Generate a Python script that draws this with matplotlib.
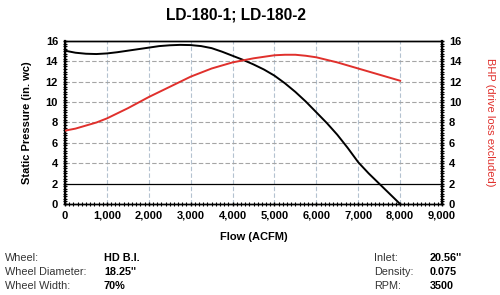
import matplotlib
matplotlib.use("Agg")
import matplotlib.pyplot as plt
from matplotlib.ticker import MultipleLocator, FuncFormatter

plt.rcParams['font.family'] = ['Liberation Sans', 'DejaVu Sans']

flow = [0, 250, 500, 750, 1000, 1250, 1500, 1750, 2000, 2250, 2500, 2750, 3000, 3250, 3500, 3750,
        4000, 4250, 4500, 4750, 5000, 5250, 5500, 5750, 6000, 6250, 6500, 6750, 7000, 7250, 7500, 7750, 8000]
static_pressure = [15.05, 14.85, 14.75, 14.72, 14.78, 14.9, 15.05, 15.2, 15.35, 15.5, 15.58, 15.62, 15.6,
                   15.5, 15.3, 14.95, 14.55, 14.15, 13.7, 13.2, 12.6, 11.85, 11.0, 10.05, 9.0, 7.95,
                   6.8, 5.5, 4.1, 3.0, 2.0, 1.0, 0.0]
bhp = [7.2, 7.4, 7.7, 8.0, 8.4, 8.9, 9.4, 9.95, 10.5, 11.0, 11.5, 12.0, 12.5, 12.9, 13.3, 13.6,
       13.9, 14.1, 14.3, 14.45, 14.6, 14.65, 14.65, 14.55, 14.4, 14.15, 13.9, 13.6, 13.3, 13.0,
       12.7, 12.4, 12.1]

title = "LD-180-1; LD-180-2"
left_info = [("Wheel:", "HD B.I."), ("Wheel Diameter:", "18.25''"), ("Wheel Width:", "70%")]
right_info = [("Inlet:", "20.56''"), ("Density:", "0.075"), ("RPM:", "3500")]

red = '#e0302c'

fig = plt.figure(figsize=(5.0, 2.95), dpi=100)
ax = fig.add_axes([0.13, 0.3085, 0.754, 0.5525])
ax2 = ax.twinx()

ax.set_xlim(0, 9000)
ax.set_ylim(0, 16)
ax2.set_ylim(0, 16)

ax.xaxis.set_major_locator(MultipleLocator(1000))
ax.xaxis.set_minor_locator(MultipleLocator(100))
ax.yaxis.set_major_locator(MultipleLocator(2))
ax.yaxis.set_minor_locator(MultipleLocator(0.25))
ax2.yaxis.set_major_locator(MultipleLocator(2))
ax2.yaxis.set_minor_locator(MultipleLocator(0.25))
ax.xaxis.set_major_formatter(FuncFormatter(lambda v, p: f"{int(v):,}"))

for a in (ax, ax2):
    for s in a.spines.values():
        s.set_color('black')
        s.set_linewidth(1.0)
ax.spines['left'].set_linewidth(1.6)
ax2.spines['right'].set_linewidth(1.6)

ax.tick_params(axis='both', which='major', labelsize=8, length=3, direction='inout', width=1)
ax.tick_params(axis='both', which='minor', length=2.5, direction='inout', width=0.8)
ax.tick_params(axis='x', which='both', top=False)
ax2.tick_params(axis='y', which='major', labelsize=8, length=3, direction='inout', width=1)
ax2.tick_params(axis='y', which='minor', length=2.5, direction='inout', width=0.8)
for lbl in ax.get_xticklabels() + ax.get_yticklabels() + ax2.get_yticklabels():
    lbl.set_fontweight('bold')

# grid
for xv in range(1000, 9000, 1000):
    ax.axvline(xv, color='#b4c2d0', lw=0.8, ls=(0, (4, 2)), zorder=0)
for yv in range(4, 16, 2):
    ax.axhline(yv, color='#a5a5a5', lw=0.8, ls=(0, (4, 2)), zorder=0)
ax.axhline(2, color='black', lw=0.9, zorder=1)

ax.plot(flow, static_pressure, color='black', lw=1.4, zorder=3)
ax2.plot(flow, bhp, color=red, lw=1.4, zorder=3)

ax.set_xlabel("Flow (ACFM)", fontsize=8, fontweight='bold', labelpad=8)
ax.set_ylabel("Static Pressure (in. wc)", fontsize=8, fontweight='bold', labelpad=10)
ax2.set_ylabel("BHP (drive loss excluded)", fontsize=8, color=red,
               rotation=270, labelpad=24)

fig.text(0.472, 0.95, title, ha='center', va='center', fontsize=11.2, fontweight='bold')

ys = [258, 272, 286]
for (k, v), y in zip(left_info, ys):
    fig.text(5 / 500, 1 - y / 295, k, fontsize=7.8, color='#333333', va='center', ha='left')
    fig.text(104 / 500, 1 - y / 295, v, fontsize=7.8, fontweight='bold', va='center', ha='left')
for (k, v), y in zip(right_info, ys):
    fig.text(374 / 500, 1 - y / 295, k, fontsize=7.8, color='#333333', va='center', ha='left')
    fig.text(430 / 500, 1 - y / 295, v, fontsize=7.8, fontweight='bold', va='center', ha='left')

fig.savefig("out.png", dpi=100)
